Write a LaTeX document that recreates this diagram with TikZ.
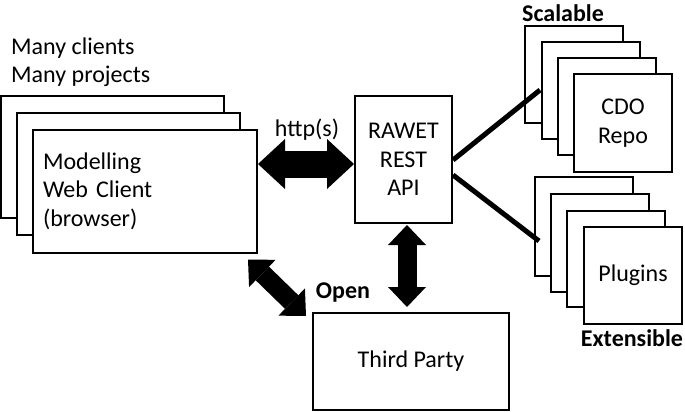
\documentclass[tikz,border=0pt]{standalone}
\usepackage{fontspec}
\setmainfont{Carlito}
\usetikzlibrary{arrows.meta,calc}
\begin{document}
\begin{tikzpicture}[x=1pt,y=-1pt,
  every node/.style={font=\fontsize{24}{28.5}\selectfont},
  box/.style={draw,line width=2pt,fill=white,rectangle,inner sep=0pt,align=center},
  blbl/.style={font=\fontsize{24}{28.5}\selectfont\bfseries,inner sep=0pt},
  lbl/.style={inner sep=0pt,align=left},
  bigarrow/.style={line width=27pt,
    {Triangle[width=50pt,length=27pt,line width=0pt]}-{Triangle[width=50pt,length=27pt,line width=0pt]}},
  medarrow/.style={line width=19pt,
    {Triangle[width=38pt,length=20pt,line width=0pt]}-{Triangle[width=38pt,length=20pt,line width=0pt]}},
  link/.style={line width=5pt}
]
\useasboundingbox (0,0) rectangle (685,412);

% client stack
\node[box,minimum width=223pt,minimum height=122pt] (c1) at (112.5,157) {};
\node[box,minimum width=223pt,minimum height=122pt] (c2) at (128.5,174) {};
\node[box,minimum width=224pt,minimum height=123pt,text width=204pt,inner xsep=10pt,align=left] (cli) at (145,191) {Modelling\\Web Client\\(browser)};

\node[lbl,anchor=west] (many) at (11,62) {Many clients\\Many projects};

% RAWET
\node[box,minimum width=97pt,minimum height=127pt] (raw) at (403.5,159.5) {RAWET\\REST\\API};

% Third party
\node[box,minimum width=196pt,minimum height=97pt] (tp) at (411,361.5) {Third Party};

% CDO stack
\node[box,minimum width=98pt,minimum height=97pt] (r1) at (574,74.5) {};
\node[box,minimum width=98pt,minimum height=97pt] (r2) at (590.5,90.5) {};
\node[box,minimum width=98pt,minimum height=97pt] (r3) at (607,106.5) {};
\node[box,minimum width=98pt,minimum height=98pt] (cdo) at (623,123) {CDO\\Repo};
\node[blbl] (scal) at (563,13) {Scalable};

% Plugins stack
\node[box,minimum width=98pt,minimum height=99pt] (p1) at (584,226.5) {};
\node[box,minimum width=98pt,minimum height=98pt] (p2) at (600,243) {};
\node[box,minimum width=98pt,minimum height=96pt] (p3) at (616,259) {};
\node[box,minimum width=98pt,minimum height=97pt] (plug) at (633,275.5) {Plugins};
\node[blbl] (ext) at (632,338) {Extensible};

% labels
\node[inner sep=0pt] (http) at (307,130) {http(s)};
\node[blbl] (open) at (343,293) {Open};

% connectors
\coordinate (hA) at ($(raw.west)+(0,4.5)$);
\draw[bigarrow] (cli.east |- hA) -- (hA);
\draw[medarrow] ($(raw.south)+(3.5,1)$) -- ($(tp.north)+(-4,-5)$);
\draw[medarrow] ($(cli.south east)+(-10,6)$) -- ($(tp.north west)+(-6,4)$);

\coordinate (cdoA) at (540,90);
\coordinate (plA) at (539,241);
\draw[link] ($(raw.east)+(0,0.5)$) -- (cdoA);
\draw[link] ($(raw.east)+(0,15.5)$) -- (plA);
\end{tikzpicture}
\end{document}
